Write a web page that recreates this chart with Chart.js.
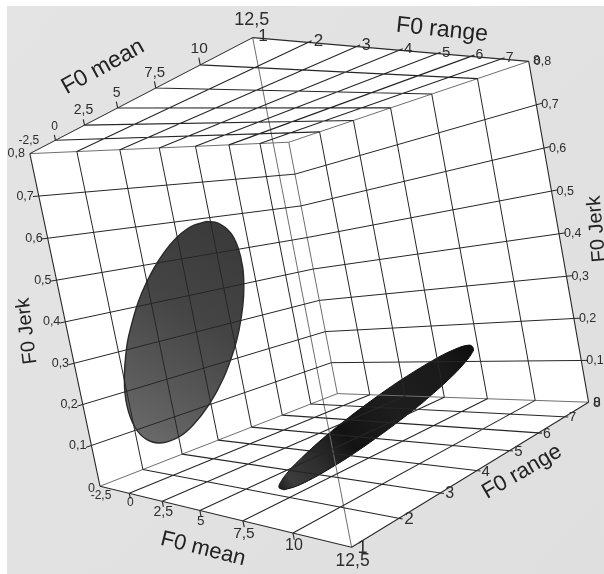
<!DOCTYPE html><html><head><meta charset="utf-8"><script src="https://cdn.jsdelivr.net/npm/chart.js@4"></script>
<style>html,body{margin:0;background:#fff}canvas{display:block;filter:blur(0.4px)}</style></head><body><canvas id="c" width="604" height="574" style="width:604px;height:574px"></canvas><script>
const meanTicks=[-2.5,0,2.5,5,7.5,10,12.5];
const rangeTicks=[1,2,3,4,5,6,7,8];
const jerkTicks=[0,0.1,0.2,0.3,0.4,0.5,0.6,0.7,0.8];
const meanLabels=['-2,5','0','2,5','5','7,5','10','12,5'];
const rangeLabels=['1','2','3','4','5','6','7','8'];
const jerkLabels=['0','0,1','0,2','0,3','0,4','0,5','0,6','0,7','0,8'];
// upper-left ellipsoid outline, read on the plane F0 range = 1.35
const ellipseAMean=[7.77,8.36,8.89,9.13,9.17,9.03,8.78,8.34,7.86,6.97,5.82,4.49,3.30,1.90,0.91,0.19,-0.11,0.12,0.86,1.50,2.41,3.32,4.30,5.59,6.78];
const ellipseAJerk=[0.552,0.544,0.523,0.495,0.459,0.424,0.390,0.348,0.312,0.259,0.206,0.159,0.129,0.111,0.115,0.140,0.191,0.251,0.326,0.369,0.420,0.460,0.495,0.530,0.549];
// lower-right ellipsoid outline, read on the plane F0 Jerk = 0.1
const ellipseBMean=[11.04,11.20,11.21,11.09,10.89,10.38,9.78,9.12,7.77,6.64,5.94,5.21,4.32,4.08,4.49,5.46,6.16,6.65,7.46,8.43,9.30,9.84,10.33,10.72];
const ellipseBRange=[0.61,0.77,1.08,1.54,2.06,3.04,4.03,5.01,6.76,8.03,8.73,9.34,9.78,9.22,8.11,6.41,5.38,4.72,3.69,2.57,1.70,1.22,0.86,0.65];

// perspective camera of the box
const cam=[100.0055,131.3140,346.6093,-70.8477,486.2199,-126.2358,34.9484,-336.0955,-0.3421,0.3240,-0.0228];
const W=604,H=574;
const mMin=-2.5,mMax=12.5,rMin=1,rMax=8,jMin=0,jMax=0.8;
function project(m,r,j){
  const u=(m-mMin)/(mMax-mMin),v=(r-rMin)/(rMax-rMin),w=(j-jMin)/(jMax-jMin);
  const d=1+cam[8]*u+cam[9]*v+cam[10]*w;
  return {x:(cam[0]+cam[1]*u+cam[2]*v+cam[3]*w)/d,y:(cam[4]+cam[5]*u+cam[6]*v+cam[7]*w)/d};
}
const gap={x:NaN,y:NaN};
const seg=(a,b)=>[project(...a),project(...b),gap];
const inner=a=>a.slice(1,-1);
const mTick=0.3,rTick=0.12,jTick=0.012;

const wallLines=[],planeLines=[],edgesDark=[],edgesSoft=[];
// F0 mean = -2.5 wall and F0 range = 8 wall
rangeTicks.slice(1,-1).forEach(r=>wallLines.push(...seg([mMin,r,jMin],[mMin,r,jMax])));
meanTicks.slice(1,-1).forEach(m=>wallLines.push(...seg([m,rMax,jMin],[m,rMax,jMax])));
inner(jerkTicks).forEach(j=>{
  wallLines.push(...seg([mMin,rMin-rTick,j],[mMin,rMax,j]));
  wallLines.push(...seg([mMin,rMax,j],[mMax+mTick,rMax,j]));
});
// floor and ceiling
[jMin,jMax].forEach(j=>{
  inner(meanTicks).forEach(m=>{
    planeLines.push(...seg([m,rMin,j],[m,rMax,j]));
    planeLines.push(...seg([m,rMin,j],[m,rMin,j+(j===jMax?jTick:-jTick)]));
  });
  inner(rangeTicks).forEach(r=>planeLines.push(...seg([mMin,r,j],[mMax+mTick/2,r,j])));
});
// box outline
edgesDark.push(...seg([mMin,rMin,jMax],[mMax,rMin,jMax]),...seg([mMax,rMin,jMax],[mMax,rMax,jMax]),
 ...seg([mMax,rMax,jMax],[mMax,rMax,jMin]),...seg([mMax,rMax,jMin],[mMax,rMin,jMin]),
 ...seg([mMax,rMin,jMin],[mMin,rMin,jMin]),...seg([mMin,rMin,jMin],[mMin,rMin,jMax]));
edgesSoft.push(...seg([mMin,rMin,jMax],[mMin,rMax,jMax]),...seg([mMin,rMax,jMax],[mMax,rMax,jMax]),
 ...seg([mMin,rMin,jMin],[mMin,rMax,jMin]),...seg([mMax,rMax,jMin],[mMin,rMax,jMin]),
 ...seg([mMin,rMax,jMin],[mMin,rMax,jMax]),...seg([mMax,rMin,jMin],[mMax,rMin,jMax]));

const box=[[mMin,rMin,jMax],[mMax,rMin,jMax],[mMax,rMax,jMax],[mMax,rMax,jMin],[mMax,rMin,jMin],[mMin,rMin,jMin],[mMin,rMin,jMax]].map(p=>project(...p));
const outlineA=ellipseAMean.map((m,i)=>project(m,1.35,ellipseAJerk[i]));outlineA.push(outlineA[0]);
const outlineB=ellipseBMean.map((m,i)=>project(m,ellipseBRange[i],0.1));outlineB.push(outlineB[0]);

const canvas=document.getElementById('c'),ctx=canvas.getContext('2d');
const gradA=ctx.createLinearGradient(125,425,240,245);
[[0,'#696969'],[.3,'#565656'],[.6,'#454545'],[1,'#3b3b3b']].forEach(s=>gradA.addColorStop(s[0],s[1]));
const gradB=ctx.createLinearGradient(277,490,472,347);
[[0,'#161616'],[.07,'#3c3c3c'],[.2,'#2e2e2e'],[.36,'#131313'],[.6,'#1e1e1e'],[.85,'#1a1a1a'],[1,'#0e0e0e']].forEach(s=>gradB.addColorStop(s[0],s[1]));

const line=(data,color,width,order)=>({data,showLine:true,borderColor:color,borderWidth:width,pointRadius:0,tension:0,fill:false,order,spanGaps:false});

const ff='"Liberation Sans",Arial,sans-serif';
const tickColor='#2e2e2e';
const sizesMean1=[12,12,14,14,15,15.5,18],sizesRange1=[17,17,16,15,15,14,14,13];
const sizesMean0=[12,12,14,13.5,15.5,16,17.5],sizesRange0=[18,17,16,15,15,14,13,14];
const titles=[
 ['F0 mean',103,67,-29,23],['F0 range',442,30,6,23],['F0 Jerk',597,229,-95,20],
 ['F0 Jerk',27,331,-97,20],['F0 mean',203,549,14,22],['F0 range',522,472,-30,22]];

const textPlugin={id:'boxText',
 beforeDraw(c){const g=c.ctx;g.save();const b=g.createLinearGradient(0,0,W,H);b.addColorStop(0,'#e4e4e4');b.addColorStop(1,'#dfdfdf');g.fillStyle=b;g.fillRect(7,6,W-7,H-6);g.restore();},
 afterDraw(c){
  const g=c.ctx,X=c.scales.x,Y=c.scales.y;
  const put=(t,p,dx,dy,size,align)=>{g.font=size+'px '+ff;g.textAlign=align||'center';g.textBaseline='middle';g.fillStyle=tickColor;
    g.fillText(t,X.getPixelForValue(p.x)+dx,Y.getPixelForValue(p.y)+dy);};
  g.save();
  meanLabels.forEach((t,i)=>{const s=sizesMean1[i];put(t,project(meanTicks[i],rMin,jMax),-1,-(5+0.7*s),s);});
  rangeLabels.forEach((t,i)=>{const s=sizesRange1[i];put(t,project(mMax,rangeTicks[i],jMax),0.6*s,-1,s);});
  meanLabels.forEach((t,i)=>{const s=sizesMean0[i];put(t,project(meanTicks[i],rMin,jMin),1,0.8*s,s);});
  rangeLabels.forEach((t,i)=>{const s=sizesRange0[i];put(t,project(mMax,rangeTicks[i],jMin),0.6*s,1,s);});
  jerkLabels.forEach((t,i)=>{
    put(t,project(mMin,rMin,jerkTicks[i]),-5,i?0:2,12.5,'right');
    put(t,project(mMax,rMax,jerkTicks[i]),5,0,12.5,'left');
  });
  titles.forEach(([t,x,y,a,s])=>{g.save();g.translate(x,y);g.rotate(a*Math.PI/180);g.font=s+'px '+ff;g.textAlign='center';g.textBaseline='middle';g.fillStyle='#222';g.fillText(t,0,0);g.restore();});
  g.restore();
 }};

new Chart(ctx,{type:'scatter',
 data:{datasets:[
  {data:box,showLine:true,borderWidth:0,borderColor:'rgba(0,0,0,0)',backgroundColor:'#fff',fill:'shape',pointRadius:0,tension:0,order:9},
  {data:outlineA,showLine:true,borderColor:'#2b2b2b',borderWidth:1.4,backgroundColor:gradA,fill:'shape',pointRadius:0,tension:0.4,order:8},
  {data:outlineB,showLine:true,borderColor:'#101010',borderWidth:1,backgroundColor:gradB,fill:'shape',pointRadius:0,tension:0.4,order:7},
  line(edgesSoft,'#6e6e6e',1,6),
  line(wallLines,'#262626',1,5),
  line(planeLines,'#262626',1.1,4),
  line(edgesDark,'#2a2a2a',1.1,3)
 ]},
 plugins:[textPlugin],
 options:{responsive:false,animation:false,devicePixelRatio:1,
  layout:{padding:0},
  plugins:{legend:{display:false},tooltip:{enabled:false}},
  scales:{x:{type:'linear',display:false,min:0,max:W},y:{type:'linear',display:false,min:0,max:H,reverse:true}}}
});
</script></body></html>
